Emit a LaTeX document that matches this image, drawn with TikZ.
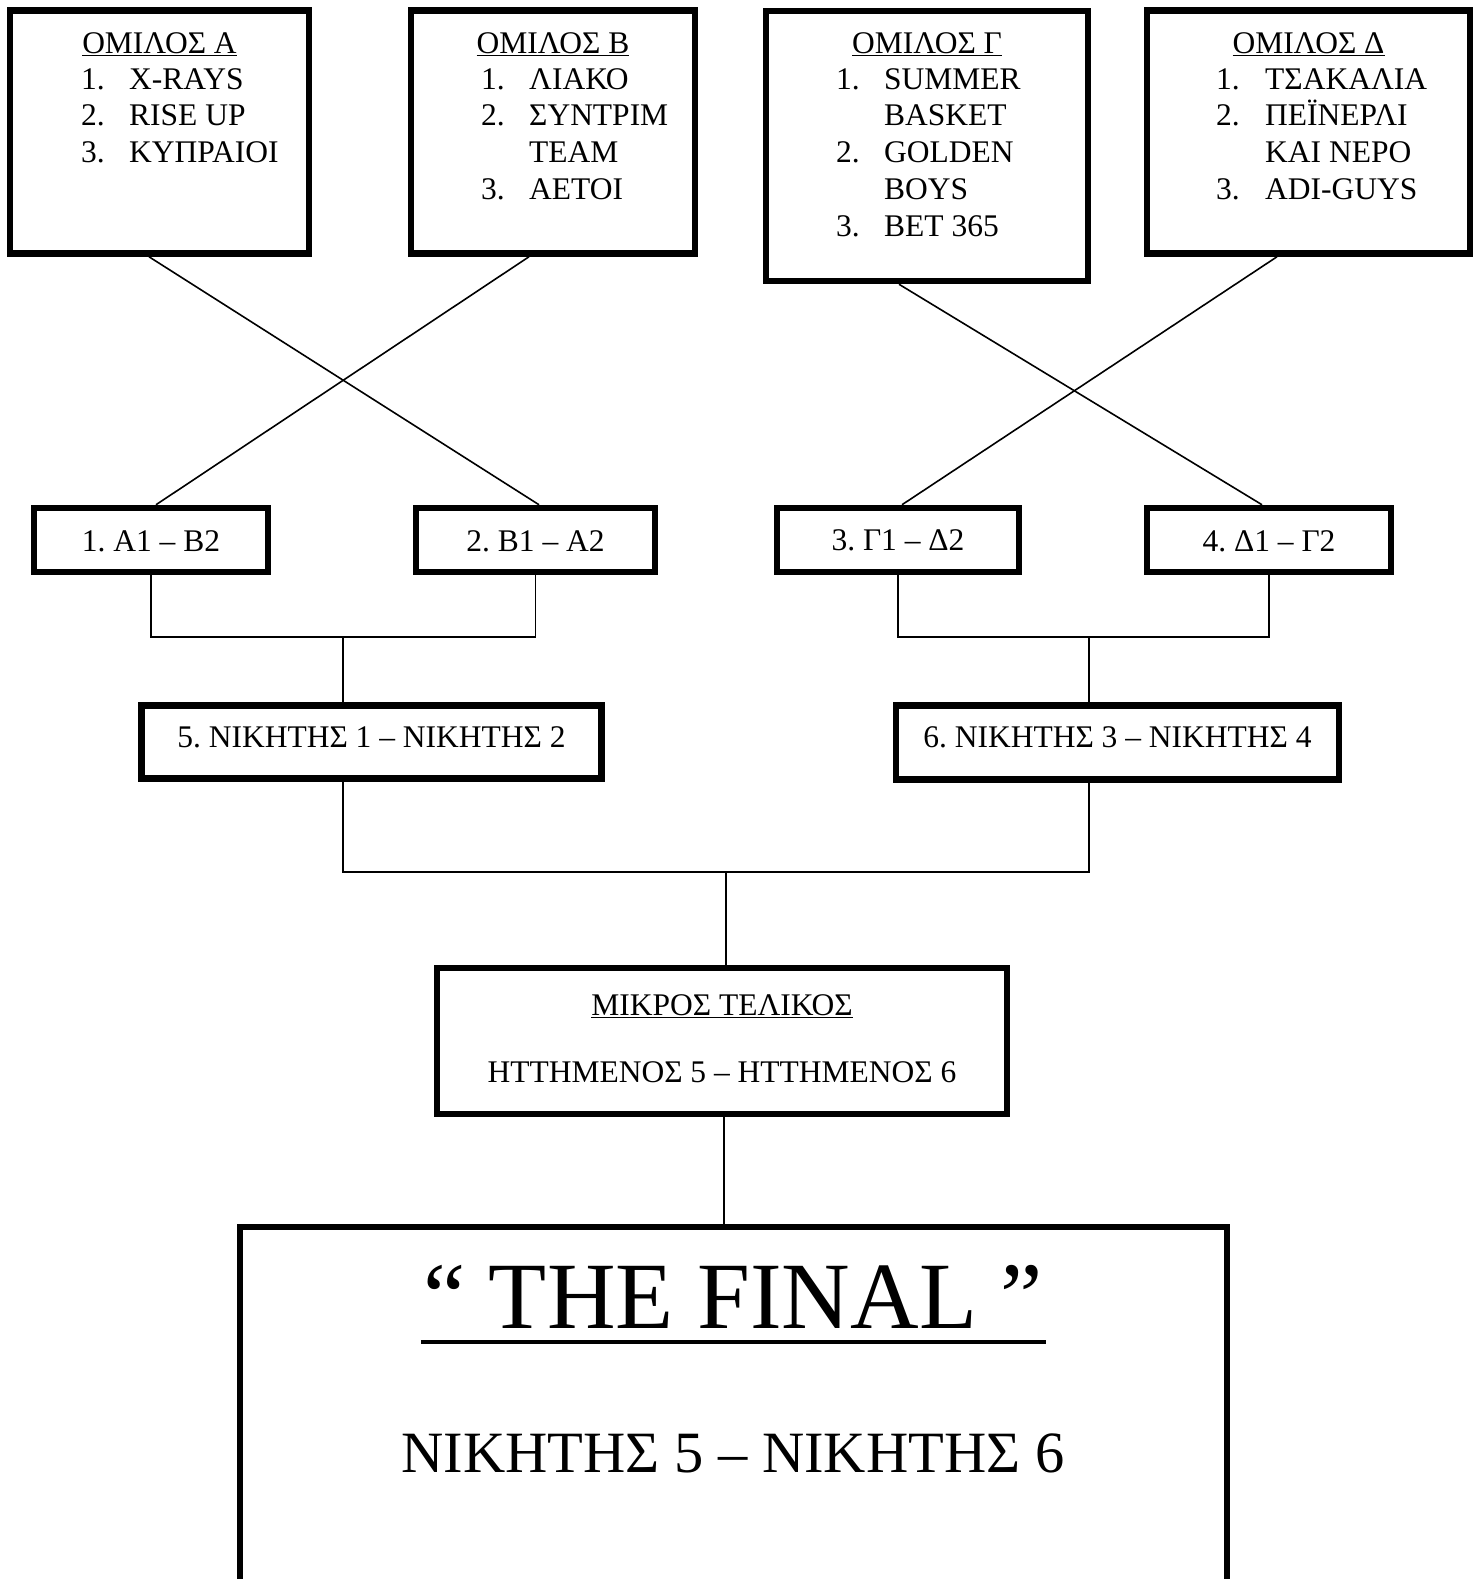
\documentclass[tikz,border=0pt]{standalone}
\usepackage{fontspec}
\setmainfont{Liberation Serif}
\frenchspacing
\begin{document}
\frenchspacing
\begin{tikzpicture}[x=1pt,y=-1pt,
  box/.style={draw,line width=6.5pt,inner sep=0pt,rectangle},
  conn/.style={draw,line width=1.6pt},
  txt/.style={inner sep=0pt,font=\fontsize{31.5}{36.8}\selectfont},
  lst/.style={inner sep=0pt,anchor=base west,font=\fontsize{31.5}{36.8}\selectfont}]
\useasboundingbox (0,0) rectangle (1480,1579);
\clip (0,0) rectangle (1480,1579);
% group boxes
\node[box,minimum width=299pt,minimum height=243pt] (A) at (159.5,132) {};
\node[box,minimum width=284pt,minimum height=243pt] (B) at (553,132) {};
\node[box,minimum width=322pt,minimum height=270pt] (G) at (927,146) {};
\node[box,minimum width=323pt,minimum height=243pt] (D) at (1308.5,132) {};
% titles
\node[txt,anchor=base] (At) at (159.5,53) {\underline{ΟΜΙΛΟΣ Α}};
\node[txt,anchor=base] (Bt) at (553,53) {\underline{ΟΜΙΛΟΣ Β}};
\node[txt,anchor=base] (Gt) at (927,53) {\underline{ΟΜΙΛΟΣ Γ}};
\node[txt,anchor=base] (Dt) at (1308.5,53) {\underline{ΟΜΙΛΟΣ Δ}};
% lists
\node[lst] (Al) at (81,89) {\begin{tabular}[t]{@{}p{48pt}@{}l@{}}1.&X-RAYS\\2.&RISE UP\\3.&ΚΥΠΡΑΙΟΙ\end{tabular}};
\node[lst] (Bl) at (481,89) {\begin{tabular}[t]{@{}p{48pt}@{}l@{}}1.&ΛΙΑΚΟ\\2.&ΣΥΝΤΡΙΜ\\&TEAM\\3.&ΑΕΤΟΙ\end{tabular}};
\node[lst] (Gl) at (836,89) {\begin{tabular}[t]{@{}p{48pt}@{}l@{}}1.&SUMMER\\&BASKET\\2.&GOLDEN\\&BOYS\\3.&BET 365\end{tabular}};
\node[lst] (Dl) at (1216,89) {\begin{tabular}[t]{@{}p{49pt}@{}l@{}}1.&ΤΣΑΚΑΛΙΑ\\2.&ΠΕΪΝΕΡΛΙ\\&ΚΑΙ ΝΕΡΟ\\3.&ADI-GUYS\end{tabular}};
% round 2 boxes
\node[box,minimum width=234pt,minimum height=64pt] (m1) at (151,540) {};
\node[box,minimum width=239pt,minimum height=64pt] (m2) at (535.5,540) {};
\node[box,minimum width=242pt,minimum height=64pt] (m3) at (898,540) {};
\node[box,minimum width=244pt,minimum height=64pt] (m4) at (1269,540) {};
\node[txt,anchor=base] (m1t) at (151,551) {1. Α1 – Β2};
\node[txt,anchor=base] (m2t) at (535.5,551) {2. Β1 – Α2};
\node[txt,anchor=base] (m3t) at (898,550) {3. Γ1 – Δ2};
\node[txt,anchor=base] (m4t) at (1269,551) {4. Δ1 – Γ2};
% semis
\node[box,minimum width=460pt,minimum height=73pt] (s5) at (371.5,742) {};
\node[box,minimum width=443pt,minimum height=74pt] (s6) at (1117.5,742.5) {};
\node[txt,anchor=base] (s5t) at (371.5,747) {5. ΝΙΚΗΤΗΣ 1 – ΝΙΚΗΤΗΣ 2};
\node[txt,anchor=base] (s6t) at (1117.5,747) {6. ΝΙΚΗΤΗΣ 3 – ΝΙΚΗΤΗΣ 4};
% third place
\node[box,minimum width=570pt,minimum height=146pt] (t) at (722,1041) {};
\node[txt,anchor=base] (tt) at (722,1015) {\underline{ΜΙΚΡΟΣ ΤΕΛΙΚΟΣ}};
\node[txt,anchor=base] (ts) at (722,1082) {ΗΤΤΗΜΕΝΟΣ 5 – ΗΤΤΗΜΕΝΟΣ 6};
% final
\node[box,minimum width=987pt,minimum height=420pt] (f) at (733.5,1437) {};
\node[inner sep=0pt,anchor=base,font=\fontsize{95}{100}\selectfont] (ft) at (733,1328) {“ THE FINAL  ”};
\draw[line width=4.5pt] (ft.base west) ++(-2,14) coordinate (u1) -- ([xshift=3pt]ft.base east |- u1);
\node[inner sep=0pt,anchor=base,font=\fontsize{58.5}{64}\selectfont] (fs) at (733,1472) {ΝΙΚΗΤΗΣ 5 – ΝΙΚΗΤΗΣ 6};
% crossing connectors
\draw[conn] (A.south -| 149,0) -- (m2.north -| 539,0);
\draw[conn] (B.south -| 529,0) -- (m1.north -| 156,0);
\draw[conn] (G.south -| 899,0) -- (m4.north -| 1262,0);
\draw[conn] (D.south -| 1277,0) -- (m3.north -| 902,0);
% bracket connectors
\coordinate (j1) at (343,637);
\coordinate (j2) at (1089,637);
\draw[conn] (m1.south) |- (j1) -| (m2.south);
\draw[conn] (j1) -- (s5.north -| j1);
\draw[conn] (m3.south) |- (j2) -| (m4.south);
\draw[conn] (j2) -- (s6.north -| j2);
\coordinate (j3) at (726,872);
\draw[conn] (s5.south -| j1) |- (j3) -| (s6.south -| j2);
\draw[conn] (j3) -- (t.north -| j3);
\draw[conn] (t.south -| 724,0) -- (f.north -| 724,0);
\end{tikzpicture}
\end{document}
